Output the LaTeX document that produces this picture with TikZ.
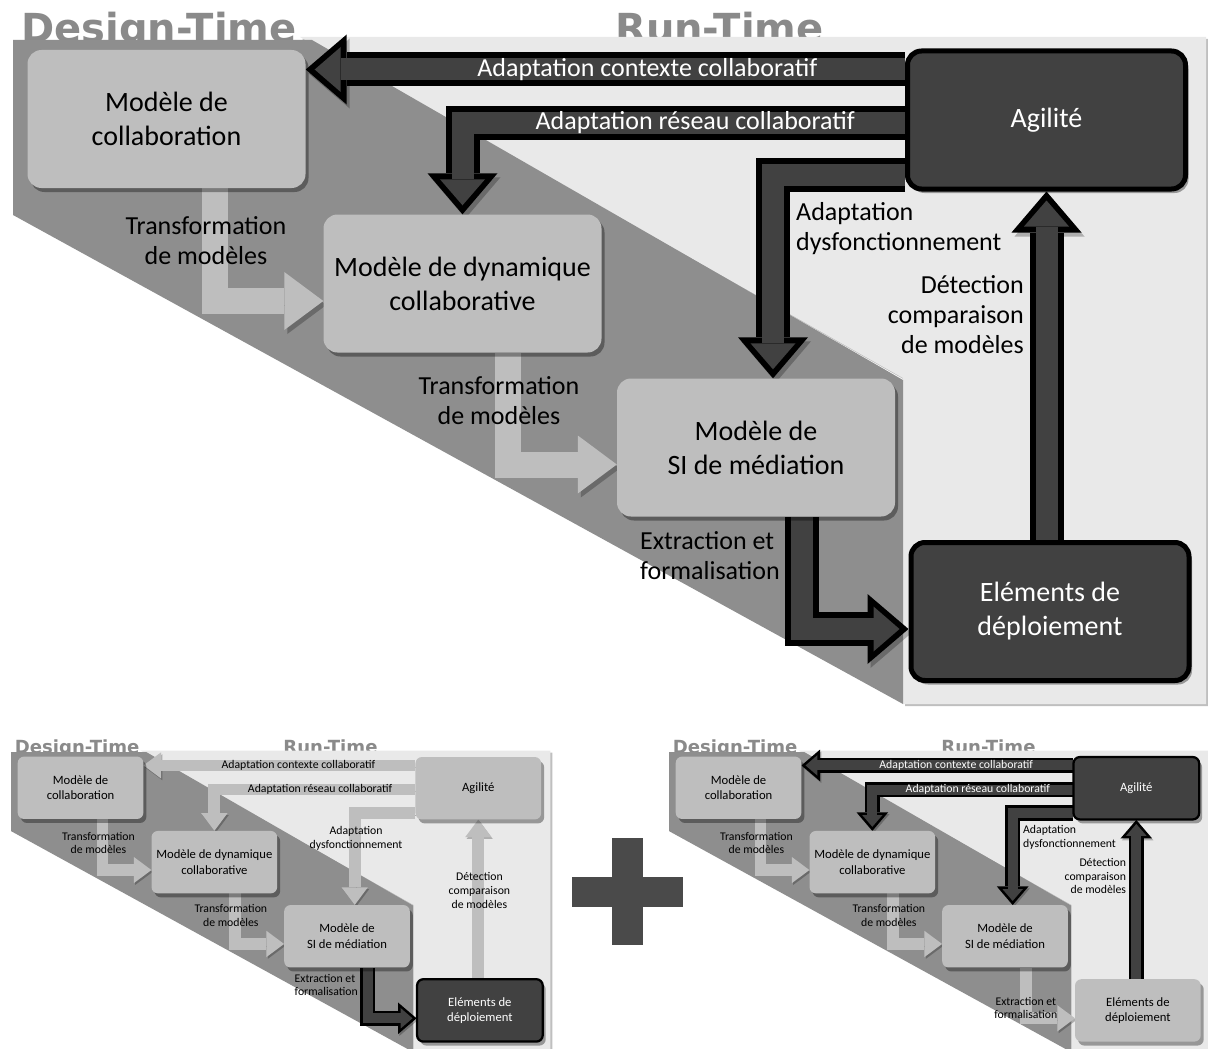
\documentclass[tikz,border=0pt]{standalone}
\usepackage{fontspec}
\setmainfont{Carlito}
\newfontfamily\phasefont{DejaVu Sans}
\usetikzlibrary{positioning,arrows.meta,shadows}

\definecolor{boxlight}{HTML}{BEBEBE}
\definecolor{boxdark}{HTML}{414141}
\definecolor{bandgray}{HTML}{8E8E8E}
\definecolor{panelgray}{HTML}{E9E9E9}
\definecolor{phasegray}{HTML}{8A8A8A}
\definecolor{plusgray}{HTML}{4A4A4A}

\pgfdeclarelayer{backdrop}
\pgfdeclarelayer{panels}
\pgfdeclarelayer{flows}
\pgfsetlayers{backdrop,panels,flows,main}

% scale of the copy being drawn (line widths and tips do not follow scale=)
\def\dscale{1}

% one copy of the diagram
% #1 = look of Agilite and its arrows, #2 = look of Elements and the extraction arrow
\newcommand{\agilityflow}[2]{%
  % phases
  \begin{pgfonlayer}{backdrop}
    \node[phase] (design) at (21,43) {Design-Time};
    \node[phase] (run) at (615,43) {Run-Time};
  \end{pgfonlayer}
  \begin{pgfonlayer}{panels}
    \fill[panelgray, drop shadow={shadow xshift=2pt, shadow yshift=-2pt, opacity=0.25, fill=black}] (300,37) -- (1206,37) -- (1206,704) -- (903,704) -- (903,378) -- cycle;
    \fill[bandgray] (13,40) -- (312,40) -- (903,380) -- (903,704) -- (13,215) -- cycle;
  \end{pgfonlayer}

  % models
  \node[lightbox] (collab) at (166.5,119) {Modèle de\\collaboration};
  \node[lightbox] (dyn) at (462.5,283.5) {Modèle de dynamique\\collaborative};
  \node[lightbox] (si) at (756,447.5) {Modèle de\\SI de médiation};
  \node[#1box] (agil) at (1046.5,120) {Agilité};
  \node[#2box] (elem) at (1050,611.5) {Eléments de\\déploiement};

  % routing points
  \coordinate (ctx) at (0,69.5);
  \coordinate (net) at (0,123);
  \coordinate (dys) at (773,175);
  \coordinate (tr1) at (215,301);
  \coordinate (tr2) at (507.5,464.5);
  \coordinate (ext) at (802,629);

  % arrows
  \begin{pgfonlayer}{flows}
    \draw[#1flow] (agil.west |- ctx) -- node[#1text, pos=0.43] (ctxlab) {Adaptation contexte collaboratif} (collab.east |- ctx);
    \draw[#1flow] (agil.west |- net) -| node[#1text, pos=0.237] (netlab) {Adaptation réseau collaboratif} (dyn.north);
    \draw[#1flow] (agil.west |- dys) -| (si.north -| dys);
    \draw[#1flow] (elem.north -| agil.south) -- (agil.south);
    \draw[lightflow] (collab.south -| tr1) |- (dyn.west |- tr1);
    \draw[lightflow] (dyn.south -| tr2) |- (si.west |- tr2);
    \draw[#2flow] (si.south -| ext) |- (elem.west |- ext);
  \end{pgfonlayer}

  % labels
  \node[flowlabel] (tr1lab) at (206,241) {Transformation\\de modèles};
  \node[flowlabel] (tr2lab) at (499,401) {Transformation\\de modèles};
  \node[flowlabel, #1dys] (dyslab) {Adaptation\\dysfonctionnement};
  \node[flowlabel, #1det] (detlab) {Détection\\comparaison\\de modèles};
  \node[flowlabel, #2ext] (extlab) {Extraction et\\formalisation};
}

\begin{document}
\begin{tikzpicture}[
  x=1pt, y=-1pt,
  phase/.style={anchor=base west, inner sep=0pt, font=\fontsize{40}{40}\phasefont\bfseries, text=phasegray},
  box/.style={rectangle, rounded corners=14pt*\dscale, minimum width=278pt, minimum height=138pt, align=center, font=\fontsize{28}{34}\selectfont, drop shadow={shadow xshift=3pt, shadow yshift=-4pt, opacity=0.35, fill=black}},
  lightbox/.style={box, fill=boxlight, text=black},
  darkbox/.style={box, fill=boxdark, draw=black, line width=5pt*\dscale, text=white},
  flowshadow/.style={preaction={draw=black, opacity=0.25, transform canvas={xshift=3pt*\dscale, yshift=-4pt*\dscale}}},
  darkflow/.style={flowshadow, draw=black, line width=34pt*\dscale, -{Triangle[length=41pt, width=70pt, line width=0pt, scale=\dscale]},
    postaction={draw=boxdark, line width=22pt*\dscale, shorten >=9pt*\dscale, -{Triangle[length=26pt, width=45pt, line width=0pt, scale=\dscale]}}},
  lightflow/.style={flowshadow, draw=boxlight, line width=26pt*\dscale, -{Triangle[length=39pt, width=58pt, line width=0pt, scale=\dscale]}},
  darktext/.style={text=white, inner sep=0pt, font=\fontsize{26}{30}\selectfont},
  lighttext/.style={text=black, inner sep=0pt, font=\fontsize{26}{30}\selectfont},
  flowlabel/.style={inner sep=0pt, align=center, font=\fontsize{26}{30}\selectfont},
  darkdys/.style={at={(796,202)}, anchor=north west, align=left},
  lightdys/.style={at={(776,204)}, anchor=north, align=center},
  darkdet/.style={at={(1024,275)}, anchor=north east, align=right},
  lightdet/.style={at={(1049,307)}, anchor=north, align=center},
  darkext/.style={at={(640,531)}, anchor=north west, align=left},
  lightext/.style={at={(802,582)}, anchor=north, align=center}
]
\useasboundingbox (0,0) rectangle (1208,1049);
\begin{pgfonlayer}{backdrop}
  \fill[white] (0,0) rectangle (1208,1049);
\end{pgfonlayer}

% main diagram
\agilityflow{dark}{dark}

% deployment view
\begin{scope}[shift={(5.3,734)}, scale=0.452, transform shape, name prefix=deploy-]
  \def\dscale{0.452}
  \agilityflow{light}{dark}
\end{scope}

% plus sign
\fill[plusgray] (612,838) rectangle (643,945);
\fill[plusgray] (572,877) rectangle (683,907);

% agility view
\begin{scope}[shift={(663.3,734)}, scale=0.452, transform shape, name prefix=agile-]
  \def\dscale{0.452}
  \agilityflow{dark}{light}
\end{scope}

\end{tikzpicture}
\end{document}
